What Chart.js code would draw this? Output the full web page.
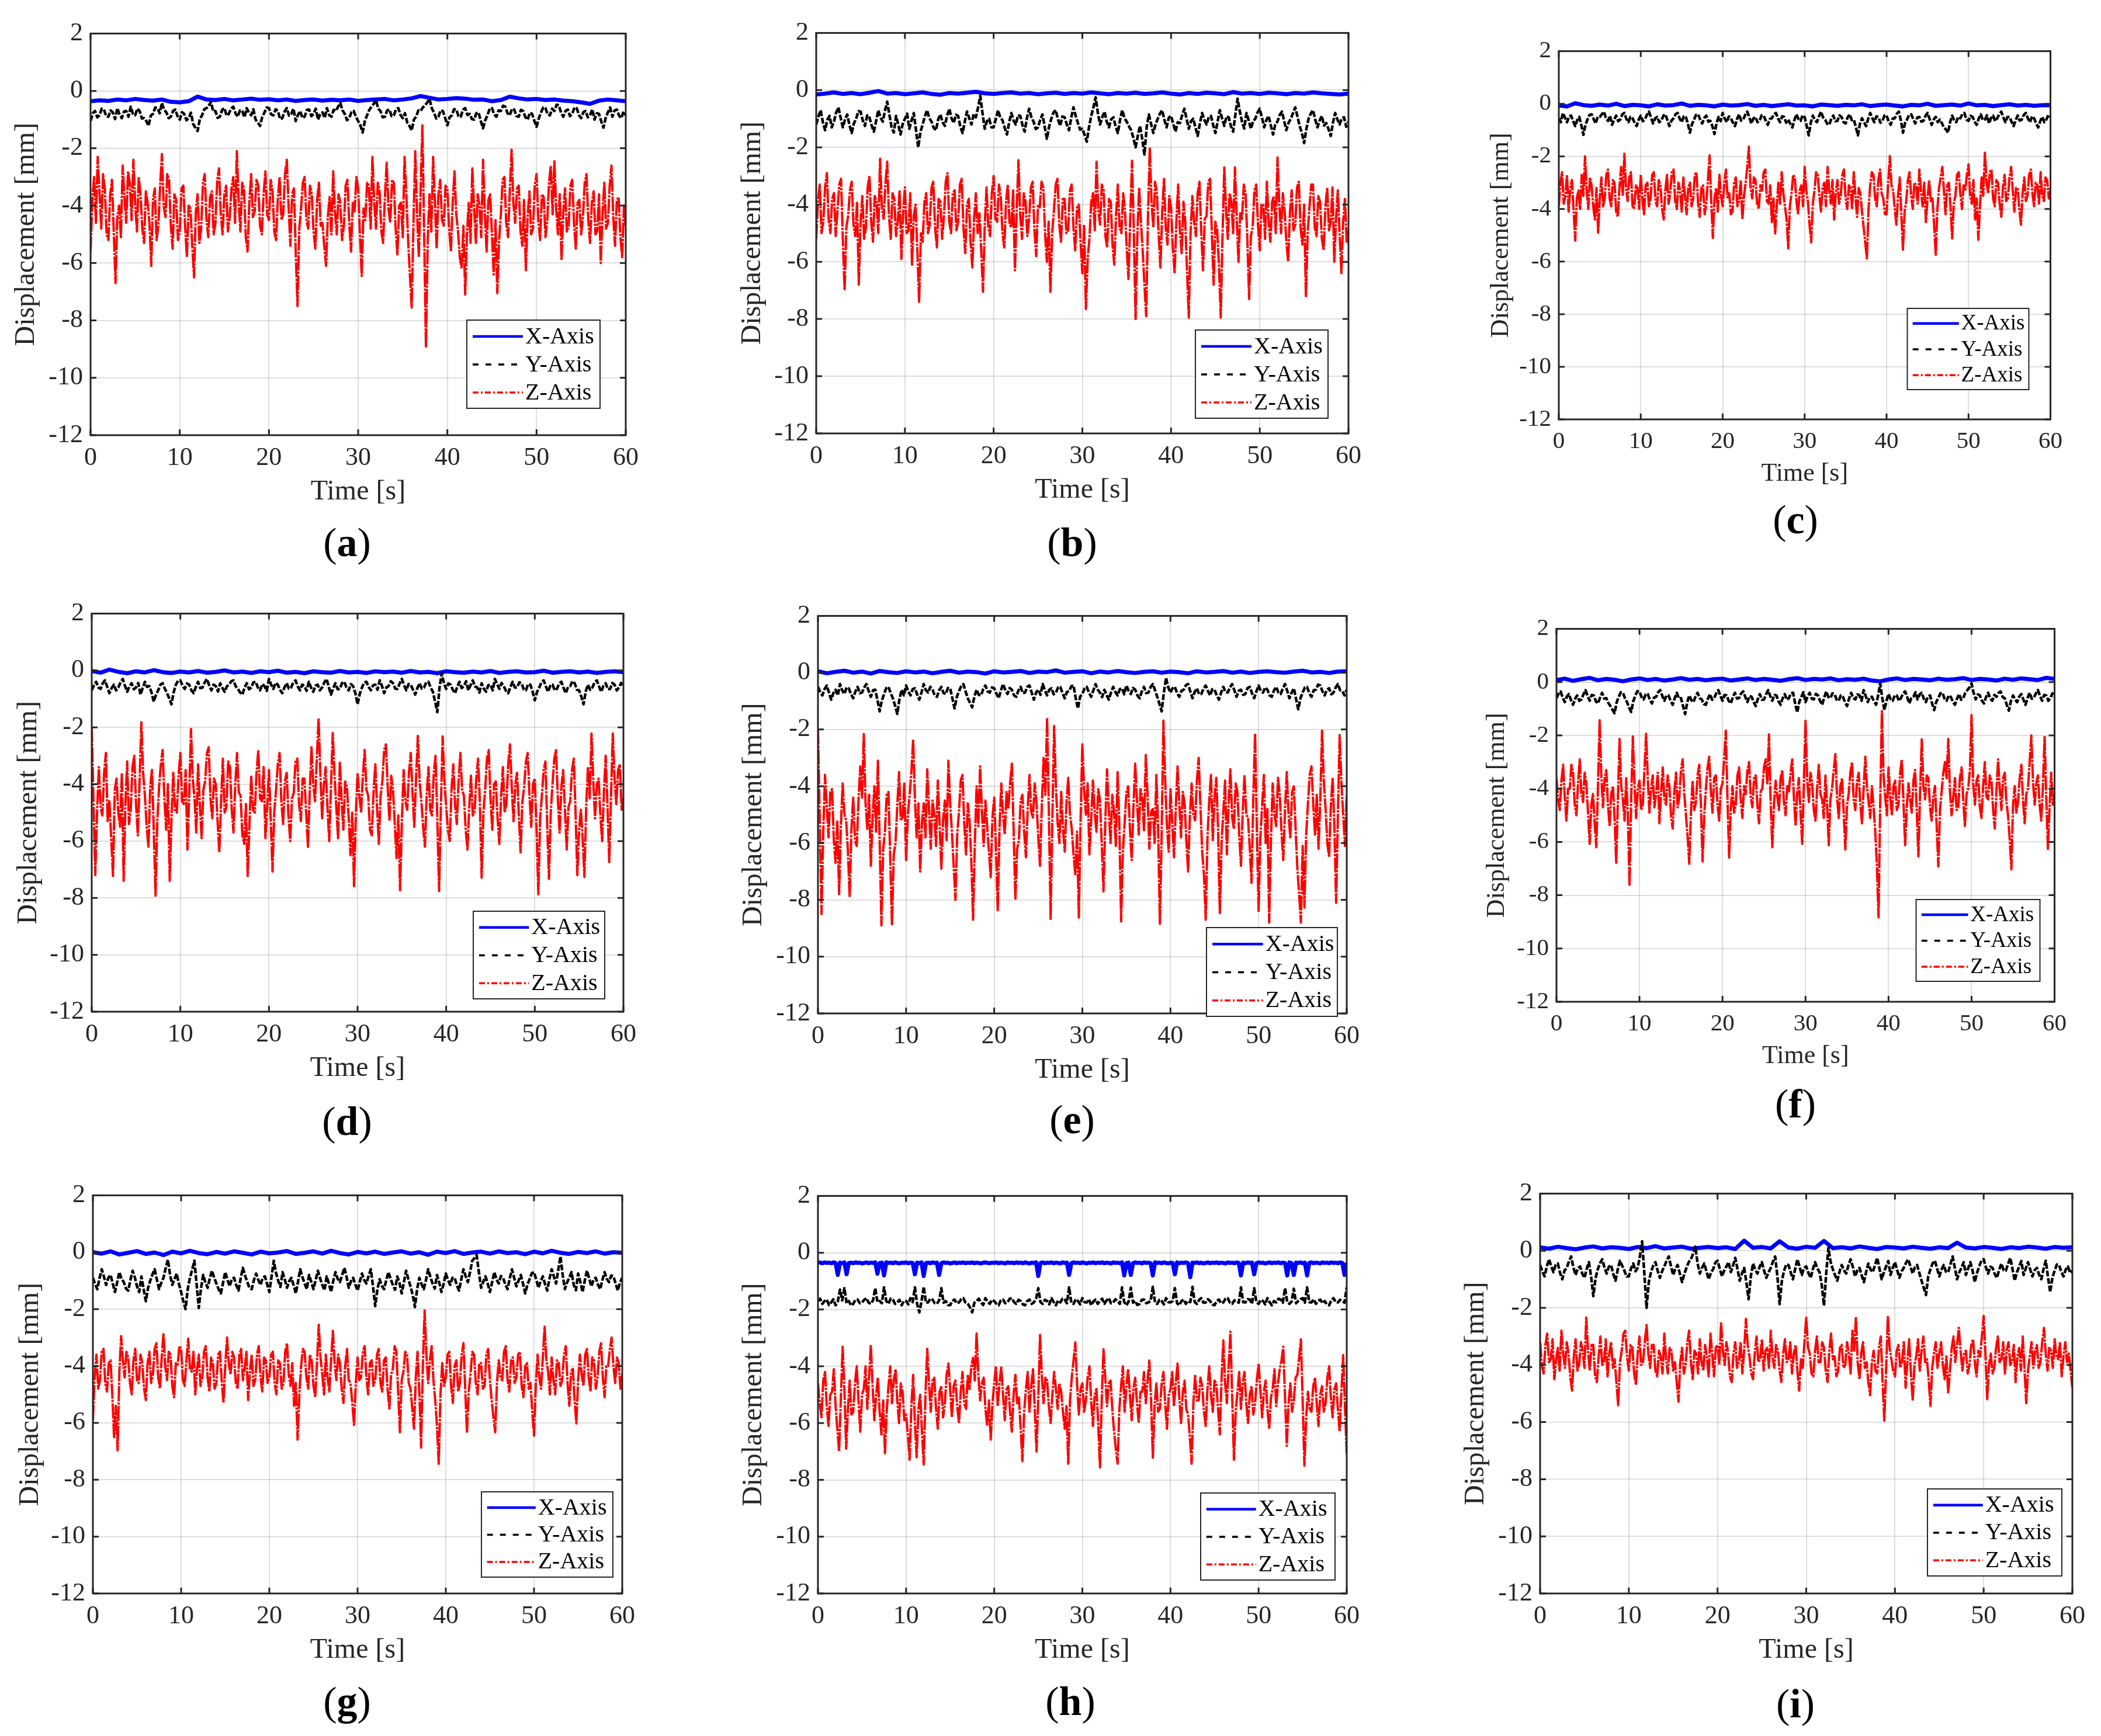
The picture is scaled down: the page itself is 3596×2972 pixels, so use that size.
<!DOCTYPE html>
<html>
<head>
<meta charset="utf-8">
<title>Displacement vs time, nine runs</title>
<script src="https://cdn.jsdelivr.net/npm/chart.js@4.4.1/dist/chart.umd.min.js"></script>
<style>
  body { margin: 0; background: #fff; }
  #fig { position: relative; width: 3596px; height: 2972px; overflow: hidden; background: #fff; }
  #fig canvas { position: absolute; }
  .cap { position: absolute; transform: translate(-50%, -50%); font-family: "Liberation Serif", "Times New Roman", serif; font-size: 70px; color: #000; white-space: nowrap; }
</style>
</head>
<body>
<div id="fig"></div>
<script>
// Axis ticks and series names
const timeTicks = [0, 10, 20, 30, 40, 50, 60];
const dispTicks = [-12, -10, -8, -6, -4, -2, 0, 2];
const seriesNames = ["X-Axis", "Y-Axis", "Z-Axis"];

// sample spacing (s) of the values
const xStep = 1;
const yStep = 0.25;
const zStep = 0.2;

// ---- (a) ----
const xA = [-0.36,-0.33,-0.35,-0.30,-0.33,-0.28,-0.32,-0.34,-0.30,-0.38,
  -0.40,-0.36,-0.20,-0.30,-0.32,-0.28,-0.33,-0.30,-0.27,-0.31,
  -0.29,-0.33,-0.30,-0.35,-0.32,-0.30,-0.34,-0.31,-0.33,-0.30,
  -0.35,-0.32,-0.30,-0.28,-0.33,-0.30,-0.26,-0.18,-0.24,-0.30,
  -0.28,-0.25,-0.27,-0.31,-0.30,-0.36,-0.32,-0.20,-0.26,-0.30,
  -0.28,-0.32,-0.30,-0.34,-0.36,-0.40,-0.45,-0.34,-0.30,-0.33,-0.36];
const yA = [-1.05,-0.78,-0.70,-0.92,-0.85,-0.62,-0.65,-0.88,-0.90,-0.68,-0.75,-0.98,-0.60,-0.82,-0.95,-0.72,-0.70,-0.90,-0.55,-0.80,
  -0.85,-0.62,-0.70,-0.96,-0.95,-1.05,-1.22,-0.86,-0.80,-0.58,-0.60,-0.78,-0.42,-0.66,-0.75,-0.95,-0.90,-0.70,-0.65,-0.88,
  -1.00,-0.74,-0.80,-1.02,-0.95,-0.76,-1.15,-1.28,-1.40,-0.98,-0.85,-0.64,-0.60,-0.52,-0.38,-0.72,-0.70,-0.94,-0.90,-0.66,
  -0.60,-0.86,-0.80,-0.62,-0.55,-0.78,-0.90,-0.68,-0.70,-0.92,-0.60,-0.76,-0.85,-0.64,-1.00,-1.10,-1.22,-0.90,-0.75,-0.58,
  -0.60,-0.82,-0.85,-0.64,-0.70,-0.98,-0.95,-0.72,-0.60,-0.86,-0.80,-0.62,-1.05,-0.84,-0.70,-0.94,-0.90,-0.66,-0.65,-0.88,
  -0.80,-0.62,-1.00,-0.82,-0.75,-0.94,-0.60,-0.84,-0.90,-0.66,-0.70,-0.55,-0.42,-0.68,-0.80,-1.02,-0.95,-0.74,-0.70,-0.90,
  -1.05,-1.20,-1.45,-1.05,-0.85,-0.66,-0.55,-0.45,-0.32,-0.62,-0.70,-0.92,-0.90,-0.68,-0.65,-0.88,-0.85,-0.64,-0.60,-0.84,
  -0.95,-0.78,-1.10,-1.22,-1.38,-1.00,-0.90,-0.68,-0.70,-0.58,-0.50,-0.40,-0.28,-0.60,-0.75,-0.96,-0.90,-0.68,-0.70,-0.94,
  -1.20,-0.92,-0.85,-0.64,-0.65,-0.88,-0.90,-0.66,-0.60,-0.84,-0.80,-0.98,-1.00,-0.78,-0.75,-1.05,-1.30,-1.02,-0.85,-0.62,
  -0.60,-0.82,-0.90,-0.68,-0.70,-0.52,-0.55,-0.78,-0.85,-0.62,-0.65,-0.88,-0.90,-0.66,-0.70,-0.92,-1.00,-0.76,-0.80,-1.04,
  -1.25,-0.96,-0.75,-0.58,-0.60,-0.82,-0.85,-0.62,-0.70,-0.48,-0.50,-0.76,-0.90,-0.70,-0.65,-0.88,-0.80,-0.58,-0.60,-0.84,
  -0.95,-0.74,-0.70,-0.92,-0.85,-0.64,-1.00,-0.78,-0.80,-1.06,-1.28,-0.94,-0.75,-0.58,-0.90,-0.68,-0.65,-0.86,-0.95,-0.72,-0.85];
const zA = [-5.6,-3.8,-3.0,-4.6,-2.3,-3.5,-4.8,-2.9,-3.4,-5.0,-5.2,-3.6,-3.1,-4.9,-6.7,-4.4,-4.0,-5.1,-2.6,-3.7,
  -4.6,-2.8,-3.2,-4.5,-2.4,-3.9,-4.9,-3.0,-3.6,-4.8,-5.3,-3.5,-3.9,-4.6,-6.1,-3.8,-3.4,-5.2,-4.7,-3.3,
  -2.2,-4.0,-4.4,-2.9,-3.1,-4.7,-5.5,-3.6,-3.8,-5.2,-4.9,-3.4,-3.3,-4.7,-5.8,-4.0,-4.1,-5.4,-6.5,-4.2,
  -3.6,-5.3,-4.8,-3.2,-2.9,-4.5,-5.1,-3.7,-3.5,-5.0,-4.6,-3.1,-2.7,-4.3,-5.0,-3.6,-3.3,-4.9,-4.4,-3.4,
  -3.0,-4.6,-2.1,-3.8,-4.9,-3.2,-3.4,-5.1,-5.6,-3.9,-2.9,-4.4,-4.2,-3.1,-3.3,-4.7,-5.0,-3.6,-2.8,-4.3,
  -4.5,-3.1,-3.5,-4.9,-5.2,-3.7,-3.0,-4.5,-4.3,-2.9,-2.4,-4.0,-5.4,-3.6,-3.4,-5.6,-7.5,-4.8,-4.1,-3.2,
  -3.0,-4.5,-4.8,-3.3,-3.6,-4.9,-5.5,-3.8,-3.2,-4.7,-4.6,-5.4,-6.1,-4.4,-3.7,-5.0,-2.8,-4.2,-5.0,-3.6,
  -3.9,-5.2,-4.7,-3.3,-3.1,-4.6,-5.6,-3.9,-4.2,-3.0,-3.4,-5.0,-6.45,-4.1,-4.5,-3.2,-3.3,-4.8,-2.3,-3.9,
  -4.8,-3.2,-3.5,-4.9,-5.3,-3.7,-2.5,-4.1,-4.6,-3.1,-3.2,-4.8,-5.7,-4.0,-3.9,-5.1,-2.3,-3.6,-5.2,-6.4,
  -7.55,-4.6,-2.1,-4.2,-5.8,-3.5,-1.2,-5.0,-8.95,-5.2,-3.6,-4.9,-2.3,-3.8,-5.5,-3.6,-3.1,-4.5,-4.7,-3.3,
  -3.4,-4.8,-5.6,-3.9,-2.8,-4.3,-4.9,-5.8,-6.2,-4.7,-7.1,-5.0,-3.9,-5.3,-2.7,-4.1,-5.3,-3.6,-4.0,-5.1,
  -2.4,-4.2,-5.6,-3.8,-3.6,-5.0,-6.4,-4.5,-7.05,-5.2,-4.3,-3.1,-3.0,-4.6,-5.1,-3.5,-2.05,-3.9,-4.6,-3.4,
  -3.3,-4.9,-5.4,-3.8,-6.25,-4.4,-3.5,-5.0,-4.8,-3.3,-2.9,-4.5,-5.2,-3.6,-3.7,-5.1,-4.5,-3.2,-2.6,-4.3,
  -2.45,-4.1,-5.0,-3.6,-5.9,-4.2,-3.4,-4.9,-4.7,-3.3,-3.1,-4.6,-5.5,-3.9,-3.8,-5.0,-4.4,-3.2,-2.9,-4.5,
  -5.3,-3.9,-3.5,-5.0,-4.9,-3.6,-6.0,-4.3,-3.2,-4.8,-4.6,-3.3,-2.6,-4.4,-5.4,-3.8,-3.7,-5.1,-5.8,-4.0,-4.7];

// ---- (b) ----
const xB = [-0.15,-0.12,-0.08,-0.13,-0.10,-0.14,-0.09,-0.03,-0.12,-0.10,
  -0.14,-0.11,-0.08,-0.13,-0.16,-0.10,-0.12,-0.09,-0.06,-0.11,
  -0.13,-0.10,-0.08,-0.12,-0.10,-0.14,-0.11,-0.09,-0.13,-0.10,
  -0.12,-0.08,-0.11,-0.14,-0.10,-0.12,-0.09,-0.13,-0.11,-0.08,
  -0.12,-0.15,-0.10,-0.13,-0.09,-0.11,-0.14,-0.07,-0.12,-0.10,
  -0.13,-0.09,-0.11,-0.14,-0.10,-0.12,-0.08,-0.11,-0.13,-0.15,-0.12];
const yB = [-1.20,-0.92,-0.70,-1.12,-1.40,-1.04,-0.90,-1.30,-1.10,-0.78,-0.60,-0.96,-1.30,-1.02,-0.85,-1.22,-1.50,-1.16,-1.00,-0.74,
  -0.75,-1.06,-1.25,-0.88,-0.95,-1.24,-1.45,-1.08,-0.70,-0.96,-1.10,-0.72,-0.40,-0.86,-1.30,-1.48,-0.90,-1.20,-1.55,-1.18,
  -1.00,-0.82,-1.35,-1.06,-0.80,-1.40,-2.00,-1.46,-1.20,-0.92,-0.70,-0.98,-1.10,-1.32,-1.40,-1.02,-0.85,-1.12,-1.25,-0.90,
  -0.65,-0.98,-1.15,-0.86,-0.90,-1.28,-1.50,-1.10,-0.75,-0.98,-1.20,-0.84,-0.95,-0.60,-0.20,-0.82,-1.35,-1.08,-1.00,-1.30,
  -1.30,-1.00,-0.70,-0.96,-1.05,-1.32,-1.55,-1.12,-0.80,-1.06,-1.20,-0.88,-0.90,-1.22,-1.45,-0.98,-0.65,-0.94,-1.10,-1.36,
  -1.30,-1.04,-0.85,-1.26,-1.70,-1.28,-1.00,-0.78,-0.70,-1.02,-1.25,-0.92,-0.95,-1.20,-1.40,-0.96,-0.60,-0.90,-1.15,-1.38,
  -1.35,-1.56,-1.80,-1.30,-0.90,-0.60,-0.25,-0.80,-1.20,-0.94,-0.75,-1.10,-1.30,-1.02,-0.95,-1.26,-1.50,-1.04,-0.70,-0.98,
  -1.10,-1.26,-1.40,-1.66,-2.00,-1.60,-1.25,-1.70,-2.25,-1.30,-0.85,-1.18,-1.50,-1.20,-1.00,-0.82,-0.70,-1.04,-1.30,-0.96,
  -0.90,-1.18,-1.45,-1.12,-1.15,-0.88,-0.65,-1.00,-1.35,-1.08,-1.00,-1.30,-1.60,-1.16,-0.80,-1.04,-1.20,-0.94,-0.90,-1.22,
  -1.50,-1.10,-0.70,-0.98,-1.25,-0.92,-0.95,-1.26,-1.45,-0.86,-0.30,-0.74,-1.10,-1.34,-0.80,-1.06,-1.35,-1.08,-1.00,-0.78,
  -0.65,-0.96,-1.30,-1.04,-0.90,-1.24,-1.55,-1.20,-1.10,-0.86,-0.75,-1.08,-1.40,-1.14,-1.00,-0.80,-0.60,-0.92,-1.25,-1.50,
  -1.85,-1.36,-1.00,-0.82,-0.70,-1.02,-1.30,-1.06,-0.90,-1.24,-1.15,-1.36,-1.60,-1.14,-0.80,-1.02,-1.20,-0.98,-0.95,-1.28,-1.10];
const zB = [-5.2,-3.9,-3.3,-5.0,-4.6,-3.4,-2.9,-4.5,-5.0,-3.8,-3.6,-5.1,-4.2,-3.3,-3.1,-5.2,-7.0,-4.8,-4.4,-3.5,
  -3.2,-4.7,-5.1,-3.9,-6.8,-4.6,-3.7,-5.2,-4.8,-3.4,-3.0,-4.6,-5.3,-3.7,-3.9,-5.0,-2.4,-4.1,-4.5,-3.3,
  -2.5,-4.4,-5.2,-3.6,-3.8,-5.1,-4.6,-3.5,-5.9,-4.3,-3.4,-5.0,-4.9,-3.6,-6.1,-4.4,-4.0,-5.6,-7.4,-5.0,
  -5.3,-3.9,-3.6,-5.0,-4.7,-3.4,-3.2,-4.8,-5.5,-3.8,-3.9,-5.2,-4.4,-3.2,-2.9,-4.6,-5.0,-3.6,-3.5,-4.9,
  -4.6,-3.3,-3.1,-4.8,-5.7,-4.0,-3.8,-5.3,-6.2,-4.5,-3.6,-5.0,-4.3,-5.6,-7.05,-4.7,-3.4,-4.8,-5.1,-3.6,
  -3.0,-4.5,-4.6,-3.3,-3.7,-5.0,-5.5,-3.9,-3.3,-4.7,-4.8,-3.5,-6.3,-4.2,-2.45,-4.4,-5.2,-3.6,-3.9,-5.1,
  -4.5,-3.4,-3.2,-4.9,-5.8,-4.0,-4.1,-3.2,-3.4,-5.0,-6.0,-4.6,-7.05,-5.0,-4.2,-3.3,-3.1,-4.7,-5.3,-3.8,
  -3.8,-5.0,-4.9,-3.5,-3.3,-4.8,-5.6,-4.1,-4.0,-5.3,-6.4,-4.7,-7.65,-5.9,-5.2,-3.9,-3.6,-4.9,-2.5,-4.2,
  -4.7,-3.3,-3.5,-5.1,-5.5,-3.8,-3.9,-5.4,-6.1,-4.4,-3.3,-4.8,-5.0,-3.6,-4.2,-5.5,-6.6,-4.5,-2.47,-4.9,
  -8.0,-5.1,-3.4,-4.6,-5.6,-6.8,-7.9,-4.4,-2.0,-3.9,-4.8,-3.2,-3.6,-5.0,-6.2,-4.3,-3.1,-4.8,-5.4,-3.7,
  -4.1,-5.5,-6.4,-4.6,-3.3,-4.9,-5.7,-3.9,-4.6,-6.3,-7.95,-5.0,-3.7,-4.6,-5.1,-3.6,-3.2,-4.9,-6.3,-4.5,
  -4.4,-3.2,-3.1,-5.0,-6.8,-4.6,-4.9,-6.1,-7.95,-5.1,-2.7,-4.2,-5.2,-3.6,-3.9,-5.0,-2.7,-4.4,-6.0,-4.3,
  -4.5,-3.3,-3.6,-5.2,-7.3,-5.1,-4.8,-3.5,-3.3,-4.7,-5.6,-4.0,-4.0,-5.2,-3.2,-4.6,-5.3,-3.9,-3.7,-5.0,
  -2.35,-4.0,-5.0,-3.6,-4.2,-5.3,-6.0,-4.3,-3.5,-4.9,-4.7,-3.4,-3.2,-4.8,-5.4,-4.0,-7.2,-5.0,-4.1,-3.3,
  -3.3,-4.8,-5.1,-3.7,-3.9,-5.2,-5.6,-4.1,-3.4,-4.9,-4.6,-3.4,-6.0,-4.5,-3.5,-5.0,-6.4,-4.6,-3.8,-5.3,-4.9];

// ---- (c) ----
const xC = [-0.06,-0.10,0.02,-0.05,-0.08,-0.03,-0.07,0.00,-0.09,-0.04,
  -0.06,-0.10,-0.02,-0.07,-0.05,0.01,-0.08,-0.04,-0.06,-0.10,
  -0.03,-0.07,-0.05,-0.01,-0.08,-0.04,-0.09,-0.05,-0.02,-0.07,
  -0.06,-0.10,-0.03,-0.05,-0.08,-0.04,-0.06,-0.02,-0.09,-0.05,
  -0.03,-0.07,-0.10,-0.04,-0.06,0.00,-0.08,-0.05,-0.03,-0.07,
  0.01,-0.06,-0.04,-0.09,-0.05,-0.02,-0.07,-0.04,-0.08,-0.05,-0.06];
const yC = [-0.55,-0.70,-0.35,-0.52,-0.70,-0.48,-0.45,-0.66,-0.85,-0.62,-0.50,-0.82,-1.18,-0.80,-0.60,-0.42,-0.40,-0.58,-0.75,-0.50,
  -0.50,-0.40,-0.30,-0.54,-0.65,-0.46,-0.80,-0.60,-0.45,-0.66,-0.60,-0.40,-0.35,-0.58,-0.70,-0.50,-0.55,-0.72,-0.85,-0.60,
  -0.45,-0.66,-0.60,-0.42,-0.30,-0.52,-0.75,-0.56,-0.50,-0.70,-0.65,-0.46,-0.40,-0.62,-0.85,-0.64,-0.55,-0.40,-0.35,-0.56,
  -0.70,-0.48,-0.50,-0.76,-1.10,-0.78,-0.60,-0.42,-0.40,-0.60,-0.75,-0.54,-0.45,-0.68,-0.65,-0.86,-1.15,-0.74,-0.50,-0.66,
  -0.35,-0.56,-0.70,-0.48,-0.55,-0.72,-0.85,-0.58,-0.40,-0.64,-0.60,-0.42,-0.30,-0.52,-0.75,-0.56,-0.50,-0.70,-0.65,-0.44,
  -0.45,-0.64,-0.80,-0.58,-0.55,-0.40,-0.35,-0.56,-0.70,-0.48,-0.50,-0.72,-0.60,-0.76,-0.90,-0.62,-0.40,-0.58,-0.65,-0.44,
  -0.50,-0.84,-1.20,-0.72,-0.45,-0.62,-0.70,-0.48,-0.30,-0.52,-0.60,-0.76,-0.80,-0.58,-0.45,-0.66,-0.65,-0.44,-0.50,-0.70,
  -0.75,-0.52,-0.40,-0.62,-0.60,-0.88,-1.20,-0.76,-0.55,-0.70,-0.85,-0.58,-0.35,-0.54,-0.70,-0.48,-0.50,-0.72,-0.65,-0.44,
  -0.45,-0.66,-0.80,-0.56,-0.55,-0.38,-0.30,-0.64,-1.10,-0.74,-0.60,-0.42,-0.40,-0.58,-0.75,-0.52,-0.50,-0.68,-0.65,-0.46,
  -0.35,-0.58,-0.80,-0.60,-0.50,-0.70,-0.60,-0.74,-0.90,-0.98,-1.10,-0.70,-0.45,-0.62,-0.70,-0.50,-0.55,-0.40,-0.35,-0.60,
  -0.65,-0.46,-0.50,-0.68,-0.80,-0.56,-0.40,-0.62,-0.60,-0.44,-0.75,-0.54,-0.45,-0.66,-0.55,-0.40,-0.30,-0.52,-0.70,-0.50,
  -0.50,-0.68,-0.85,-0.62,-0.45,-0.64,-0.60,-0.42,-0.35,-0.56,-0.70,-0.48,-0.55,-0.74,-0.90,-0.66,-0.50,-0.70,-0.60,-0.42,-0.50];
const zC = [-3.9,-3.0,-2.6,-3.8,-3.5,-2.7,-4.1,-3.2,-2.9,-4.0,-5.2,-3.6,-3.3,-4.0,-2.7,-3.5,-2.0,-3.3,-4.0,-2.8,
  -3.1,-3.9,-4.4,-3.2,-4.9,-3.6,-2.8,-3.9,-3.6,-2.7,-2.5,-3.6,-3.9,-2.9,-3.0,-4.1,-4.3,-3.2,-2.4,-3.5,
  -1.9,-3.2,-3.7,-2.8,-2.6,-3.9,-4.0,-3.1,-3.2,-4.0,-2.7,-3.6,-4.2,-3.1,-3.0,-3.9,-3.6,-2.7,-2.6,-3.7,
  -3.9,-2.9,-3.1,-4.0,-4.4,-3.3,-2.7,-3.8,-3.4,-2.6,-2.5,-3.7,-4.0,-3.0,-3.3,-4.1,-2.8,-3.5,-4.2,-3.2,
  -3.0,-3.9,-3.6,-2.7,-2.6,-3.8,-4.3,-3.2,-3.1,-4.2,-3.8,-2.9,-1.96,-3.7,-5.1,-3.6,-3.2,-4.1,-2.7,-3.5,
  -3.9,-3.0,-2.5,-3.6,-3.4,-4.2,-4.1,-3.0,-2.8,-3.9,-3.7,-2.9,-4.4,-3.5,-3.0,-2.4,-1.63,-3.2,-3.6,-2.8,
  -2.9,-3.8,-4.0,-3.1,-3.3,-2.6,-2.5,-3.7,-3.8,-3.1,-4.5,-3.6,-4.93,-3.9,-3.0,-3.8,-2.6,-3.4,-3.9,-4.4,
  -5.5,-3.9,-3.4,-2.7,-2.8,-3.7,-4.2,-3.3,-3.1,-3.9,-2.4,-3.3,-3.7,-4.6,-5.27,-3.8,-3.3,-2.6,-2.7,-3.5,
  -4.1,-3.2,-3.0,-3.9,-2.4,-3.3,-3.8,-2.9,-4.4,-3.4,-2.9,-3.8,-3.5,-2.7,-2.5,-3.6,-4.0,-3.1,-3.2,-4.0,
  -2.6,-3.5,-4.3,-3.2,-3.4,-4.1,-4.7,-5.3,-5.88,-4.0,-3.1,-2.6,-2.7,-3.6,-3.9,-2.9,-2.5,-3.4,-3.6,-4.2,
  -4.2,-3.0,-1.99,-3.1,-3.3,-4.0,-4.6,-3.5,-2.8,-4.2,-5.55,-4.1,-3.7,-2.9,-2.6,-3.5,-4.0,-3.0,-3.1,-3.8,
  -2.5,-3.3,-3.9,-3.0,-4.5,-3.6,-2.9,-3.7,-3.6,-4.6,-5.74,-4.0,-3.2,-2.8,-2.4,-3.3,-4.2,-3.1,-3.0,-3.9,
  -5.12,-3.8,-3.5,-2.7,-2.6,-3.4,-4.0,-3.1,-3.3,-2.7,-2.3,-3.5,-3.8,-2.9,-4.4,-3.6,-5.17,-3.9,-2.8,-3.5,
  -1.86,-3.0,-3.4,-2.6,-2.5,-3.6,-3.9,-2.9,-3.0,-3.8,-4.3,-3.2,-2.7,-3.7,-3.6,-2.8,-2.4,-3.3,-4.1,-3.2,
  -3.2,-4.0,-4.6,-3.4,-2.8,-3.7,-3.5,-2.7,-2.5,-3.4,-3.9,-3.0,-3.1,-3.8,-2.6,-3.5,-3.7,-2.8,-2.9,-3.6,-3.2];

// ---- (d) ----
const xD = [-0.02,-0.08,0.03,-0.05,-0.10,-0.03,-0.07,0.01,-0.06,-0.09,
  -0.04,-0.07,-0.02,-0.08,-0.05,0.00,-0.07,-0.04,-0.09,-0.03,
  -0.06,-0.01,-0.08,-0.05,-0.10,-0.03,-0.06,-0.08,-0.02,-0.07,
  -0.05,-0.09,-0.03,-0.06,-0.04,-0.08,-0.02,-0.07,-0.05,-0.10,
  -0.03,-0.06,-0.08,-0.04,-0.07,-0.02,-0.09,-0.05,-0.03,-0.07,
  -0.06,-0.01,-0.08,-0.05,-0.03,-0.07,-0.04,-0.09,-0.05,-0.03,-0.06];
const yD = [-0.70,-0.52,-0.40,-0.60,-0.65,-0.44,-0.35,-0.58,-0.80,-0.62,-0.50,-0.70,-0.60,-0.42,-0.30,-0.54,-0.75,-0.56,-0.45,-0.66,
  -0.60,-0.44,-0.85,-0.62,-0.40,-0.58,-0.55,-0.78,-1.10,-0.86,-0.70,-0.50,-0.45,-0.64,-0.80,-0.98,-1.19,-0.76,-0.50,-0.36,
  -0.35,-0.54,-0.65,-0.46,-0.50,-0.70,-0.80,-0.58,-0.40,-0.62,-0.60,-0.42,-0.30,-0.52,-0.70,-0.50,-0.55,-0.74,-0.45,-0.62,
  -0.75,-0.56,-0.50,-0.38,-0.35,-0.56,-0.65,-0.78,-0.85,-0.60,-0.45,-0.66,-0.60,-0.42,-0.40,-0.60,-0.70,-0.48,-0.55,-0.72,
  -0.30,-0.50,-0.65,-0.44,-0.50,-0.68,-0.80,-0.60,-0.45,-0.64,-0.60,-0.42,-0.35,-0.56,-0.70,-0.50,-0.55,-0.72,-0.40,-0.60,
  -0.75,-0.54,-0.50,-0.70,-0.60,-0.42,-0.30,-0.58,-0.85,-0.62,-0.45,-0.66,-0.65,-0.44,-0.40,-0.60,-0.70,-0.48,-0.55,-0.80,
  -1.19,-0.82,-0.60,-0.42,-0.40,-0.58,-0.70,-0.52,-0.50,-0.68,-0.35,-0.54,-0.80,-0.60,-0.55,-0.38,-0.45,-0.64,-0.65,-0.46,
  -0.30,-0.52,-0.70,-0.48,-0.50,-0.68,-0.85,-0.62,-0.45,-0.64,-0.60,-0.42,-0.40,-0.60,-0.75,-1.10,-1.47,-0.60,-0.10,-0.46,
  -0.65,-0.46,-0.50,-0.68,-0.80,-0.58,-0.40,-0.62,-0.55,-0.38,-0.70,-0.52,-0.35,-0.56,-0.60,-0.78,-0.45,-0.64,-0.75,-0.52,
  -0.50,-0.70,-0.30,-0.48,-0.65,-0.44,-0.55,-0.72,-0.80,-0.58,-0.40,-0.60,-0.60,-0.42,-0.45,-0.66,-0.70,-0.48,-0.50,-0.74,
  -1.05,-0.76,-0.60,-0.42,-0.35,-0.56,-0.75,-0.54,-0.50,-0.70,-0.65,-0.46,-0.40,-0.62,-0.80,-0.58,-0.55,-0.38,-0.45,-0.68,
  -0.70,-0.92,-1.19,-0.74,-0.50,-0.68,-0.60,-0.42,-0.35,-0.56,-0.75,-0.54,-0.45,-0.66,-0.65,-0.44,-0.50,-0.70,-0.60,-0.44,-0.55];
const zD = [-2.0,-4.6,-7.2,-5.0,-3.4,-4.8,-5.1,-3.6,-2.9,-5.3,-4.6,-5.9,-7.23,-4.2,-3.8,-5.0,-5.5,-3.6,-7.4,-4.7,
  -3.2,-5.4,-4.9,-3.4,-3.0,-4.7,-5.8,-3.9,-1.82,-3.6,-4.4,-5.5,-6.2,-4.1,-3.5,-5.6,-7.92,-5.3,-4.1,-3.3,
  -2.8,-4.5,-5.6,-4.0,-7.4,-5.2,-3.6,-4.9,-5.0,-3.7,-2.9,-4.6,-4.7,-3.5,-6.3,-4.4,-2.06,-3.8,-4.5,-5.7,
  -3.3,-4.7,-5.9,-4.2,-3.9,-2.9,-2.7,-4.5,-5.2,-3.8,-4.0,-5.3,-6.4,-4.6,-3.1,-5.0,-4.8,-3.2,-3.4,-4.9,
  -5.7,-4.0,-2.9,-4.3,-4.4,-5.8,-6.1,-4.7,-7.23,-5.4,-3.7,-4.9,-5.0,-3.6,-2.8,-4.5,-4.6,-3.4,-5.9,-4.8,
  -3.5,-5.2,-7.07,-5.0,-4.2,-3.3,-2.9,-4.6,-5.4,-3.9,-3.6,-5.1,-6.0,-4.5,-4.3,-3.2,-3.1,-4.7,-5.3,-3.8,
  -3.8,-5.0,-6.2,-4.3,-2.7,-4.0,-4.6,-3.1,-1.69,-3.6,-5.2,-4.0,-3.4,-4.8,-6.0,-4.1,-2.2,-3.7,-4.8,-5.9,
  -3.2,-4.6,-5.6,-3.9,-4.1,-5.2,-6.5,-5.0,-7.59,-5.1,-3.6,-4.4,-5.0,-3.7,-2.8,-4.2,-4.4,-5.6,-5.8,-4.3,
  -3.3,-4.8,-6.1,-4.4,-3.9,-2.8,-2.6,-4.1,-5.3,-3.7,-4.2,-5.4,-6.6,-5.1,-7.73,-5.3,-3.5,-4.6,-4.9,-3.6,
  -2.9,-4.3,-5.5,-3.8,-2.3,-3.9,-4.6,-5.5,-6.2,-4.4,-3.4,-4.9,-5.1,-3.6,-3.0,-5.2,-7.76,-4.8,-2.32,-3.9,
  -4.8,-5.6,-6.0,-4.2,-3.3,-4.7,-5.4,-3.9,-2.9,-4.2,-4.4,-5.6,-6.3,-4.8,-3.7,-5.1,-5.0,-3.8,-3.1,-4.6,
  -7.29,-5.0,-4.2,-3.1,-2.8,-4.5,-5.6,-4.0,-3.9,-5.2,-6.1,-4.4,-3.4,-5.0,-4.7,-3.3,-2.6,-4.1,-5.3,-4.0,
  -3.6,-5.1,-6.4,-4.6,-4.1,-3.2,-2.9,-4.4,-5.5,-4.0,-3.8,-5.6,-7.87,-5.2,-4.4,-3.5,-3.2,-5.4,-7.33,-5.0,
  -4.0,-3.1,-2.8,-4.5,-5.7,-4.1,-3.5,-4.9,-6.3,-4.8,-4.6,-3.5,-3.1,-5.0,-7.2,-5.6,-4.9,-5.9,-7.26,-4.8,
  -3.4,-4.5,-2.22,-3.9,-5.2,-4.0,-3.8,-5.1,-6.0,-4.3,-3.0,-4.7,-6.74,-4.5,-2.22,-3.8,-4.7,-3.5,-3.3,-4.9,-4.5];

// ---- (e) ----
const xE = [0.05,-0.02,0.03,0.07,0.00,0.04,-0.03,0.06,0.02,-0.01,
  0.05,0.01,0.04,-0.02,0.03,0.07,0.00,0.04,0.02,-0.03,
  0.05,0.01,0.03,0.06,-0.01,0.04,0.02,0.08,0.00,0.03,
  0.05,-0.02,0.04,0.01,0.06,0.02,-0.01,0.03,0.05,0.00,
  0.04,0.02,-0.02,0.05,0.01,0.03,0.06,0.00,0.04,-0.01,
  0.03,0.05,0.02,0.00,0.04,0.07,0.01,0.03,-0.01,0.04,0.05];
const yE = [-0.50,-0.68,-0.80,-0.58,-0.45,-0.70,-0.95,-0.72,-0.60,-0.80,-0.40,-0.62,-0.75,-0.52,-0.55,-0.76,-0.90,-0.66,-0.50,-0.72,
  -0.70,-0.52,-0.40,-0.64,-0.85,-0.62,-0.60,-0.96,-1.36,-0.98,-0.75,-0.54,-0.50,-0.72,-0.90,-1.16,-1.45,-0.92,-0.60,-0.80,
  -0.45,-0.66,-0.80,-0.58,-0.55,-0.76,-0.95,-0.70,-0.40,-0.62,-0.70,-0.50,-0.60,-0.80,-0.85,-0.62,-0.50,-0.72,-0.75,-0.54,
  -0.55,-0.90,-1.26,-0.86,-0.65,-0.48,-0.40,-0.66,-0.90,-1.06,-1.22,-0.84,-0.60,-0.78,-0.80,-0.58,-0.45,-0.66,-0.70,-0.52,
  -0.55,-0.74,-0.90,-0.64,-0.40,-0.60,-0.75,-0.54,-0.60,-0.80,-0.85,-0.62,-0.50,-0.72,-0.70,-0.50,-0.45,-0.70,-0.95,-0.70,
  -0.60,-0.78,-0.40,-0.62,-0.80,-0.60,-0.55,-0.76,-0.70,-0.52,-0.50,-0.72,-0.90,-0.68,-0.65,-0.48,-0.45,-0.90,-1.26,-0.84,
  -0.75,-0.56,-0.50,-0.70,-0.85,-0.62,-0.40,-0.60,-0.70,-0.86,-0.60,-0.78,-0.95,-0.70,-0.50,-0.68,-0.80,-0.58,-0.55,-0.76,
  -0.45,-0.64,-0.75,-0.54,-0.60,-0.80,-0.90,-0.66,-0.50,-0.72,-0.70,-0.50,-0.40,-0.62,-0.85,-1.10,-1.36,-0.70,-0.18,-0.52,
  -0.70,-0.54,-0.50,-0.72,-0.85,-0.64,-0.60,-0.44,-0.40,-0.66,-0.90,-0.68,-0.55,-0.76,-0.75,-0.56,-0.45,-0.64,-0.80,-0.58,
  -0.60,-0.80,-0.95,-0.70,-0.50,-0.68,-0.70,-0.52,-0.40,-0.62,-0.85,-0.64,-0.60,-0.78,-0.75,-0.54,-0.50,-0.72,-0.90,-0.66,
  -0.45,-0.64,-0.70,-0.52,-0.60,-0.80,-0.85,-0.62,-0.50,-0.70,-0.75,-0.56,-0.40,-0.64,-0.90,-0.70,-0.55,-0.92,-1.29,-0.90,
  -0.70,-0.52,-0.50,-0.72,-0.85,-0.62,-0.60,-0.42,-0.45,-0.66,-0.80,-0.60,-0.55,-0.76,-0.70,-0.52,-0.40,-0.62,-0.65,-0.80,-0.60];
const zE = [-2.0,-5.1,-8.5,-5.6,-3.6,-4.7,-5.8,-4.2,-4.1,-5.9,-6.7,-5.2,-7.8,-5.4,-3.9,-5.0,-5.2,-6.3,-7.9,-5.5,
  -4.4,-5.9,-6.1,-4.5,-3.3,-4.4,-2.16,-4.6,-5.5,-4.3,-6.8,-5.1,-4.0,-5.6,-3.1,-5.9,-8.9,-6.2,-5.6,-4.3,
  -4.2,-6.5,-8.9,-6.4,-6.0,-4.7,-3.5,-5.2,-5.1,-3.9,-6.6,-5.0,-4.3,-3.5,-2.35,-4.4,-5.8,-4.6,-7.0,-5.3,
  -4.6,-5.8,-3.4,-4.8,-6.2,-4.5,-5.0,-6.1,-3.8,-5.3,-6.9,-5.2,-4.5,-5.9,-3.1,-4.6,-5.6,-6.8,-8.0,-5.7,
  -4.9,-3.8,-3.6,-5.3,-6.4,-4.6,-5.2,-6.6,-8.7,-6.0,-4.0,-5.4,-3.3,-4.8,-6.1,-4.5,-5.4,-6.3,-7.2,-5.1,
  -4.4,-6.2,-8.4,-5.5,-3.9,-5.0,-5.7,-4.2,-4.8,-3.9,-3.2,-5.5,-8.0,-6.2,-5.9,-4.5,-4.3,-5.6,-6.5,-4.8,
  -3.6,-4.9,-5.1,-3.9,-4.6,-5.8,-6.8,-4.7,-3.0,-4.3,-1.58,-4.9,-8.67,-5.1,-1.88,-4.0,-5.3,-6.0,-4.2,-5.5,
  -6.3,-4.6,-3.7,-5.0,-5.5,-6.4,-7.1,-5.6,-8.62,-5.2,-2.52,-4.1,-5.0,-3.9,-6.4,-5.2,-3.8,-4.9,-5.6,-4.1,
  -4.5,-6.0,-7.7,-5.3,-3.4,-4.8,-6.0,-4.3,-4.9,-6.1,-3.5,-5.4,-8.76,-6.3,-5.3,-4.2,-4.0,-5.5,-6.6,-4.7,
  -3.2,-4.5,-5.7,-4.1,-4.4,-5.6,-2.9,-4.3,-6.2,-4.9,-4.8,-6.0,-3.6,-5.5,-8.84,-5.7,-1.69,-3.8,-5.4,-6.3,
  -4.1,-5.3,-6.5,-4.8,-3.3,-4.6,-5.8,-4.2,-4.6,-5.9,-7.0,-5.1,-3.9,-5.0,-5.2,-3.8,-3.0,-4.7,-6.3,-7.1,
  -8.7,-5.8,-4.5,-3.6,-5.9,-4.4,-3.7,-5.5,-8.46,-6.0,-4.9,-3.8,-6.4,-4.6,-3.4,-5.1,-5.5,-3.9,-4.2,-5.7,
  -6.8,-4.9,-3.6,-5.0,-5.1,-6.2,-7.4,-4.4,-2.14,-5.5,-8.39,-5.8,-4.7,-3.6,-6.0,-4.8,-8.8,-5.9,-3.9,-5.0,
  -5.4,-3.7,-4.3,-5.6,-6.6,-4.8,-3.5,-5.0,-5.8,-4.2,-4.0,-5.5,-6.9,-7.8,-8.8,-6.1,-8.27,-5.7,-4.6,-3.6,
  -3.3,-4.6,-5.7,-4.3,-6.2,-4.5,-2.04,-3.8,-4.8,-6.0,-6.5,-4.7,-3.7,-5.4,-8.1,-5.0,-2.2,-3.9,-5.0,-6.1,-4.3];

// ---- (f) ----
const xF = [0.08,0.13,0.05,0.11,0.16,0.07,0.12,0.09,0.03,0.10,
  0.14,0.08,0.12,0.06,0.10,0.15,0.09,0.12,0.07,0.11,
  0.13,0.06,0.10,0.14,0.08,0.12,0.09,0.05,0.11,0.15,
  0.08,0.12,0.10,0.14,0.07,0.11,0.09,0.13,0.06,0.03,
  0.10,0.14,0.08,0.12,0.10,0.07,0.13,0.09,0.11,0.15,
  0.08,0.12,0.10,0.06,0.13,0.09,0.14,0.11,0.08,0.16,0.12];
const yF = [-0.60,-0.44,-0.35,-0.58,-0.75,-0.54,-0.45,-0.68,-0.85,-0.62,-0.50,-0.70,-0.65,-0.46,-0.30,-0.52,-0.70,-0.48,-0.50,-0.72,
  -0.80,-0.58,-0.40,-0.62,-0.60,-0.78,-0.90,-1.04,-1.17,-0.76,-0.55,-0.38,-0.40,-0.60,-0.75,-0.96,-1.12,-0.72,-0.50,-0.34,
  -0.35,-0.56,-0.65,-0.46,-0.45,-0.66,-0.80,-0.58,-0.55,-0.38,-0.30,-0.52,-0.70,-0.50,-0.50,-0.70,-0.85,-0.60,-0.40,-0.62,
  -0.60,-0.90,-1.20,-0.76,-0.50,-0.68,-0.75,-0.54,-0.40,-0.60,-0.65,-0.82,-0.85,-0.62,-0.45,-0.66,-0.60,-0.42,-0.30,-0.52,
  -0.70,-0.48,-0.50,-0.70,-0.80,-0.56,-0.40,-0.62,-0.60,-0.42,-0.35,-0.56,-0.75,-0.52,-0.55,-0.74,-0.90,-0.64,-0.45,-0.66,
  -0.65,-0.46,-0.30,-0.52,-0.70,-0.48,-0.50,-0.72,-0.85,-0.60,-0.45,-0.66,-0.60,-0.42,-0.40,-0.80,-1.14,-0.74,-0.55,-0.38,
  -0.75,-0.54,-0.40,-0.62,-0.65,-0.44,-0.50,-0.70,-0.85,-0.58,-0.35,-0.56,-0.60,-0.42,-0.45,-0.66,-0.70,-0.50,-0.55,-0.74,
  -0.90,-0.62,-0.40,-0.60,-0.65,-0.46,-0.50,-0.70,-0.30,-0.52,-0.75,-0.56,-0.55,-0.72,-0.85,-0.50,-0.05,-0.60,-1.05,-0.70,
  -0.45,-0.64,-0.70,-0.50,-0.50,-0.70,-0.60,-0.42,-0.35,-0.56,-0.80,-0.60,-0.55,-0.38,-0.65,-0.46,-0.40,-0.62,-0.75,-0.54,
  -0.50,-0.80,-1.05,-0.74,-0.60,-0.42,-0.40,-0.62,-0.70,-0.50,-0.55,-0.74,-0.85,-0.62,-0.45,-0.66,-0.60,-0.40,-0.30,-0.20,
  -0.05,-0.40,-0.65,-0.46,-0.50,-0.70,-0.80,-0.56,-0.40,-0.62,-0.70,-0.48,-0.55,-0.40,-0.35,-0.56,-0.60,-0.86,-1.07,-0.70,
  -0.50,-0.66,-0.75,-0.54,-0.45,-0.66,-0.85,-0.60,-0.40,-0.62,-0.60,-0.42,-0.30,-0.52,-0.70,-0.48,-0.50,-0.70,-0.60,-0.42,-0.55];
const zF = [-3.6,-4.4,-4.8,-3.7,-3.1,-4.3,-5.2,-4.0,-4.0,-3.1,-3.4,-4.6,-5.0,-3.8,-2.9,-4.2,-4.5,-3.4,-3.8,-4.9,
  -6.07,-4.6,-4.2,-5.3,-6.2,-3.9,-1.43,-3.5,-4.7,-3.6,-3.3,-4.6,-5.4,-4.2,-3.9,-5.1,-6.78,-4.4,-2.13,-3.9,
  -4.4,-5.2,-3.6,-5.0,-7.66,-4.4,-2.04,-3.8,-5.1,-4.0,-3.7,-4.8,-4.6,-3.3,-1.94,-3.6,-4.9,-4.0,-3.5,-4.7,
  -4.2,-3.4,-5.3,-4.2,-3.2,-4.4,-4.6,-3.5,-3.9,-5.0,-5.5,-4.1,-3.4,-4.7,-4.3,-3.3,-2.9,-4.2,-5.0,-5.8,
  -6.82,-4.9,-3.7,-4.8,-4.5,-3.5,-3.1,-4.6,-6.73,-5.0,-4.0,-3.2,-2.8,-4.1,-4.9,-3.6,-3.5,-4.6,-5.2,-4.0,
  -3.8,-2.9,-1.82,-4.4,-6.59,-4.8,-3.9,-4.9,-4.6,-3.5,-3.2,-4.4,-5.1,-3.9,-4.2,-3.3,-3.0,-4.3,-4.7,-3.6,
  -3.5,-4.6,-5.3,-4.1,-4.0,-3.2,-2.9,-3.8,-1.96,-4.5,-6.2,-4.6,-3.7,-4.3,-4.8,-3.6,-3.3,-4.5,-5.0,-3.9,
  -4.1,-3.4,-2.9,-4.3,-5.4,-4.2,-3.6,-4.9,-6.07,-3.8,-1.45,-3.6,-4.5,-3.4,-3.8,-4.8,-5.2,-4.0,-3.1,-4.2,
  -4.4,-5.1,-3.5,-4.6,-6.12,-4.4,-4.0,-3.3,-2.7,-4.3,-5.1,-3.9,-3.6,-4.9,-6.28,-4.6,-4.2,-3.4,-3.0,-4.4,
  -4.8,-3.7,-3.4,-4.6,-5.3,-4.0,-2.8,-3.9,-4.5,-5.1,-3.9,-4.7,-5.6,-6.9,-8.83,-4.5,-1.09,-3.5,-4.3,-5.0,
  -3.2,-4.3,-5.0,-3.9,-3.7,-4.8,-4.6,-3.4,-2.9,-4.5,-6.12,-4.7,-3.8,-4.4,-4.9,-3.7,-3.3,-4.8,-6.54,-4.2,
  -2.15,-3.9,-4.4,-3.5,-3.6,-4.7,-5.2,-4.3,-3.9,-5.4,-6.92,-4.8,-4.1,-3.4,-3.0,-3.6,-2.13,-4.1,-5.0,-4.3,
  -3.6,-4.8,-4.7,-3.6,-3.2,-4.4,-5.4,-4.2,-4.0,-3.3,-1.24,-3.8,-4.6,-3.7,-3.5,-4.7,-5.1,-3.9,-3.0,-4.3,
  -4.4,-3.5,-3.7,-4.8,-5.5,-4.1,-2.9,-4.0,-4.8,-3.6,-3.4,-4.5,-5.0,-5.9,-7.03,-4.6,-3.9,-4.9,-4.5,-3.6,
  -3.1,-4.4,-5.3,-4.2,-4.0,-3.0,-2.0,-3.7,-4.6,-3.8,-3.5,-4.6,-5.2,-3.9,-2.06,-4.3,-6.26,-4.7,-3.4,-4.6,-4.2];

// ---- (g) ----
const xG = [0.00,-0.05,0.03,-0.08,-0.02,0.04,-0.06,-0.01,-0.10,0.02,
  -0.04,0.05,-0.03,-0.07,0.01,-0.05,0.03,-0.02,-0.08,0.02,
  -0.04,-0.01,0.04,-0.06,-0.02,0.03,-0.05,0.05,-0.03,-0.08,
  0.01,-0.04,0.02,-0.06,-0.01,0.03,-0.05,0.00,-0.09,0.02,
  -0.03,0.04,-0.06,-0.01,0.02,-0.05,0.03,-0.03,0.00,-0.07,
  0.02,-0.04,0.05,-0.02,-0.06,0.01,-0.03,0.03,-0.05,0.00,-0.02];
const yG = [-0.90,-1.12,-1.30,-0.92,-0.60,-0.86,-1.15,-0.90,-0.80,-1.10,-1.40,-1.06,-0.70,-0.94,-1.05,-1.28,-1.35,-0.98,-0.65,-0.88,
  -1.20,-1.40,-0.85,-1.30,-1.72,-1.26,-1.00,-0.78,-0.60,-0.96,-1.30,-1.08,-0.90,-0.56,-0.26,-0.80,-1.15,-0.94,-0.75,-1.12,
  -1.40,-1.72,-2.00,-1.30,-0.90,-0.62,-0.30,-1.10,-1.96,-1.28,-0.80,-1.06,-1.25,-0.92,-0.65,-0.90,-1.10,-1.30,-1.45,-1.08,
  -0.70,-0.96,-1.20,-0.94,-0.90,-1.16,-1.35,-0.92,-0.55,-0.82,-1.05,-1.26,-1.30,-0.98,-0.75,-0.98,-1.15,-0.90,-0.85,-1.12,
  -1.40,-0.86,-0.30,-0.72,-1.00,-1.22,-0.70,-0.96,-1.25,-1.02,-0.90,-1.16,-1.45,-1.04,-0.60,-0.88,-1.10,-1.30,-0.80,-1.04,
  -1.30,-0.98,-0.65,-0.92,-1.15,-1.34,-0.85,-1.10,-1.40,-1.00,-0.70,-0.94,-1.05,-0.80,-0.55,-0.86,-1.25,-1.02,-0.90,-1.14,
  -1.35,-1.04,-0.75,-0.98,-1.10,-0.84,-0.60,-1.20,-1.90,-1.30,-0.95,-1.18,-1.30,-0.98,-0.70,-0.94,-1.15,-1.32,-0.85,-1.08,
  -1.45,-1.06,-0.65,-0.94,-1.20,-1.50,-1.93,-1.30,-0.90,-1.12,-1.30,-0.98,-0.60,-0.86,-1.10,-1.28,-0.80,-1.06,-1.40,-1.12,
  -0.75,-0.98,-1.15,-0.90,-0.90,-1.16,-1.35,-0.96,-0.60,-0.84,-1.05,-0.70,-0.30,-0.20,-0.10,-0.70,-1.25,-1.04,-0.85,-1.10,
  -1.40,-1.06,-0.70,-0.96,-1.10,-0.84,-0.90,-1.14,-1.30,-0.92,-0.60,-0.90,-1.20,-1.00,-0.80,-1.10,-1.45,-1.14,-0.95,-0.74,
  -0.70,-0.96,-1.25,-1.02,-0.85,-1.12,-1.35,-0.94,-0.60,-0.86,-1.10,-0.62,-0.15,-0.80,-1.30,-1.06,-0.90,-0.70,-1.15,-1.34,
  -0.75,-1.04,-1.40,-1.00,-0.65,-0.92,-1.20,-0.96,-0.90,-1.14,-1.30,-0.98,-0.70,-0.94,-1.05,-0.82,-0.85,-1.10,-1.35,-1.06,-0.90];
const zG = [-5.9,-4.4,-3.6,-4.8,-4.5,-3.5,-3.4,-4.6,-4.9,-3.9,-3.8,-5.0,-6.5,-5.4,-6.97,-4.2,-2.95,-3.8,-4.4,-3.5,
  -3.7,-4.6,-5.0,-3.8,-3.4,-4.5,-4.6,-3.6,-3.9,-4.8,-5.2,-3.9,-3.5,-4.6,-4.3,-3.4,-3.2,-4.4,-4.8,-3.7,
  -2.85,-4.0,-4.5,-3.5,-3.6,-4.7,-5.1,-3.9,-4.0,-3.3,-3.4,-4.5,-4.7,-3.8,-3.04,-4.1,-4.2,-3.5,-5.0,-4.1,
  -3.6,-4.7,-4.4,-3.5,-3.3,-4.4,-4.9,-3.7,-3.9,-4.8,-4.6,-3.6,-3.5,-4.5,-5.3,-4.0,-3.0,-3.9,-4.3,-3.5,
  -3.7,-4.6,-4.8,-3.6,-3.4,-4.5,-4.1,-3.5,-5.2,-4.2,-3.6,-4.7,-4.5,-3.6,-3.3,-4.4,-4.9,-3.7,-3.8,-4.6,
  -4.4,-3.6,-3.5,-4.6,-5.0,-3.8,-3.9,-4.8,-4.6,-3.5,-3.2,-4.3,-4.7,-3.9,-5.4,-4.6,-6.59,-5.0,-4.0,-3.4,
  -3.5,-4.4,-4.8,-3.6,-3.8,-4.7,-5.1,-3.9,-2.55,-3.7,-4.3,-5.0,-3.6,-4.4,-4.9,-3.8,-2.76,-3.9,-4.5,-3.6,
  -3.9,-4.8,-5.3,-4.0,-3.4,-4.5,-4.6,-5.3,-6.07,-4.6,-3.7,-4.5,-4.4,-3.5,-3.3,-4.4,-5.0,-3.9,-3.8,-4.7,
  -4.5,-3.6,-3.4,-4.6,-4.9,-3.8,-3.7,-4.8,-5.5,-4.3,-4.1,-3.3,-3.5,-4.9,-6.33,-4.5,-4.2,-3.5,-3.6,-4.6,
  -4.8,-5.5,-6.21,-4.4,-3.5,-4.9,-6.87,-4.0,-2.05,-3.6,-4.6,-3.8,-3.3,-4.5,-5.2,-6.1,-7.44,-5.0,-3.9,-4.7,
  -4.4,-3.6,-3.5,-4.7,-5.3,-4.0,-3.8,-4.9,-4.6,-3.6,-3.2,-4.8,-6.35,-4.9,-4.3,-3.5,-3.6,-4.6,-5.0,-3.9,
  -3.9,-4.8,-4.7,-3.6,-3.4,-4.5,-5.2,-5.8,-6.33,-4.6,-3.8,-4.4,-4.5,-3.5,-3.3,-4.5,-4.9,-3.8,-3.7,-4.6,
  -4.4,-3.6,-3.5,-4.7,-5.1,-4.0,-3.9,-4.8,-4.6,-5.6,-6.45,-4.7,-3.6,-4.4,-4.8,-3.7,-2.62,-3.8,-4.2,-5.0,
  -3.7,-4.5,-5.0,-3.8,-3.9,-4.7,-4.5,-3.6,-3.3,-4.6,-5.4,-4.2,-4.1,-5.2,-6.02,-4.5,-3.6,-4.3,-4.7,-3.6,
  -3.4,-4.4,-4.9,-3.7,-3.8,-4.8,-4.4,-3.5,-3.2,-4.4,-5.1,-4.0,-4.0,-3.4,-3.0,-4.0,-4.6,-3.7,-3.9,-4.8,-4.3];

// ---- (h) ---- (X read at 0.25 s because of the short drop-outs)
const xH = [-0.33,-0.35,-0.37,-0.34,-0.36,-0.35,-0.37,-0.34,-0.36,-0.78,
  -0.35,-0.37,-0.34,-0.76,-0.36,-0.35,-0.37,-0.34,-0.36,-0.35,
  -0.38,-0.36,-0.34,-0.37,-0.35,-0.36,-0.34,-0.74,-0.36,-0.35,
  -0.80,-0.34,-0.36,-0.35,-0.37,-0.34,-0.36,-0.38,-0.35,-0.36,
  -0.34,-0.37,-0.35,-0.36,-0.76,-0.35,-0.37,-0.34,-0.82,-0.36,
  -0.35,-0.37,-0.34,-0.36,-0.35,-0.78,-0.37,-0.34,-0.36,-0.35,
  -0.38,-0.36,-0.34,-0.37,-0.35,-0.36,-0.34,-0.37,-0.35,-0.36,
  -0.34,-0.37,-0.35,-0.36,-0.38,-0.35,-0.34,-0.36,-0.37,-0.35,
  -0.36,-0.34,-0.37,-0.35,-0.36,-0.38,-0.34,-0.36,-0.35,-0.37,
  -0.34,-0.36,-0.35,-0.37,-0.34,-0.36,-0.38,-0.35,-0.36,-0.34,
  -0.82,-0.36,-0.34,-0.37,-0.35,-0.36,-0.34,-0.37,-0.35,-0.36,
  -0.38,-0.34,-0.36,-0.35,-0.78,-0.37,-0.34,-0.36,-0.35,-0.37,
  -0.34,-0.36,-0.38,-0.35,-0.36,-0.34,-0.37,-0.35,-0.36,-0.34,
  -0.37,-0.35,-0.36,-0.38,-0.34,-0.36,-0.35,-0.37,-0.34,-0.80,
  -0.36,-0.35,-0.78,-0.37,-0.34,-0.36,-0.35,-0.38,-0.34,-0.36,
  -0.35,-0.37,-0.80,-0.34,-0.36,-0.35,-0.37,-0.34,-0.36,-0.38,
  -0.35,-0.36,-0.76,-0.34,-0.37,-0.35,-0.36,-0.34,-0.37,-0.86,
  -0.35,-0.36,-0.34,-0.37,-0.35,-0.38,-0.36,-0.34,-0.37,-0.35,
  -0.36,-0.34,-0.37,-0.35,-0.36,-0.38,-0.34,-0.36,-0.35,-0.37,
  -0.34,-0.36,-0.80,-0.35,-0.37,-0.34,-0.36,-0.35,-0.76,-0.37,
  -0.34,-0.36,-0.35,-0.38,-0.36,-0.34,-0.37,-0.35,-0.36,-0.34,
  -0.37,-0.35,-0.36,-0.80,-0.34,-0.37,-0.78,-0.35,-0.36,-0.34,
  -0.37,-0.35,-0.80,-0.36,-0.34,-0.37,-0.35,-0.36,-0.38,-0.34,
  -0.36,-0.35,-0.37,-0.34,-0.36,-0.35,-0.37,-0.34,-0.36,-0.78,-0.35];
const xStepH = 0.25;
const yH = [-1.70,-1.62,-1.80,-1.70,-1.65,-1.84,-1.75,-1.64,-1.85,-1.72,-1.30,-1.68,-1.25,-1.78,-1.70,-1.86,-1.80,-1.66,-1.65,-1.78,
  -1.75,-1.66,-1.60,-1.76,-1.80,-1.68,-1.25,-1.74,-1.70,-1.78,-1.22,-1.70,-1.80,-1.62,-1.65,-1.80,-1.75,-1.66,-1.85,-1.70,
  -1.70,-1.82,-1.60,-1.74,-1.22,-1.80,-2.10,-1.72,-1.20,-1.76,-1.75,-1.62,-1.65,-1.78,-1.80,-1.68,-1.25,-1.76,-1.70,-1.84,
  -1.85,-1.70,-1.65,-1.78,-1.75,-1.64,-1.60,-1.76,-1.80,-1.92,-2.10,-1.76,-1.70,-1.62,-1.75,-1.84,-1.60,-1.72,-1.80,-1.66,
  -1.70,-1.80,-1.85,-1.68,-1.65,-1.78,-1.75,-1.62,-1.60,-1.74,-1.80,-1.66,-1.70,-1.82,-1.85,-1.70,-1.65,-1.80,-1.75,-1.62,
  -1.25,-1.74,-1.80,-1.66,-1.70,-1.82,-1.60,-1.74,-1.85,-1.68,-1.75,-1.62,-1.65,-1.78,-1.22,-1.76,-1.80,-1.64,-1.70,-1.82,
  -1.60,-1.74,-1.75,-1.64,-1.85,-1.72,-1.65,-1.80,-1.70,-1.62,-1.80,-1.68,-1.60,-1.78,-1.75,-1.64,-1.70,-1.80,-1.22,-1.74,
  -1.85,-1.72,-1.23,-1.76,-1.70,-1.84,-1.80,-1.66,-1.65,-1.78,-1.75,-1.70,-1.20,-1.76,-1.80,-1.66,-1.70,-1.82,-1.60,-1.74,
  -1.75,-1.70,-1.25,-1.78,-1.85,-1.70,-1.65,-1.80,-1.70,-1.74,-1.20,-1.74,-1.80,-1.66,-1.60,-1.76,-1.75,-1.64,-1.70,-1.82,
  -1.85,-1.70,-1.65,-1.78,-1.75,-1.62,-1.60,-1.76,-1.80,-1.68,-1.70,-1.76,-1.22,-1.74,-1.75,-1.64,-1.65,-1.80,-1.25,-1.74,
  -1.80,-1.66,-1.70,-1.82,-1.60,-1.74,-1.85,-1.70,-1.75,-1.62,-1.65,-1.76,-1.25,-1.74,-1.80,-1.72,-1.27,-1.78,-1.70,-1.64,
  -1.60,-1.76,-1.22,-1.74,-1.75,-1.64,-1.80,-1.70,-1.65,-1.78,-1.70,-1.82,-1.85,-1.68,-1.60,-1.74,-1.75,-1.66,-1.70,-1.76,-1.22];
const zH = [-4.6,-5.3,-5.8,-4.5,-4.2,-5.4,-6.1,-5.0,-4.9,-4.1,-5.4,-6.2,-7.0,-5.1,-3.31,-4.8,-6.9,-5.5,-4.5,-5.7,
  -5.6,-4.6,-4.0,-5.2,-6.3,-5.0,-4.8,-4.0,-5.5,-4.4,-3.24,-4.7,-5.9,-5.0,-4.4,-5.6,-6.4,-5.2,-7.06,-5.6,
  -4.7,-4.0,-5.3,-4.5,-4.1,-5.2,-6.0,-4.6,-4.9,-5.9,-5.7,-6.4,-7.29,-5.4,-4.3,-6.0,-7.2,-5.5,-5.0,-6.3,
  -7.46,-5.0,-3.38,-4.6,-5.6,-4.5,-4.4,-5.5,-6.2,-4.9,-4.7,-5.8,-5.3,-4.3,-3.9,-4.8,-5.8,-4.7,-4.5,-5.4,
  -6.0,-4.9,-4.2,-5.3,-5.5,-4.3,-4.8,-4.0,-3.7,-4.5,-2.84,-4.3,-5.2,-4.6,-4.4,-5.5,-6.1,-5.2,-6.58,-5.3,
  -4.6,-4.0,-5.4,-4.6,-4.0,-5.0,-5.9,-4.8,-4.7,-5.6,-6.3,-5.0,-4.3,-5.3,-5.1,-6.2,-7.34,-5.6,-4.8,-4.2,
  -5.6,-4.7,-4.1,-5.5,-7.0,-5.1,-2.9,-4.3,-5.3,-4.4,-4.5,-5.4,-6.0,-5.0,-4.2,-4.8,-5.5,-4.6,-4.9,-5.6,
  -6.2,-5.4,-7.43,-5.2,-4.4,-3.8,-3.16,-4.6,-5.7,-4.8,-4.6,-5.6,-5.2,-4.4,-4.0,-5.2,-6.1,-5.0,-4.8,-6.0,
  -7.56,-5.2,-3.4,-4.4,-5.4,-4.6,-4.5,-5.5,-6.3,-6.9,-7.43,-5.5,-4.7,-4.0,-5.6,-4.7,-4.1,-5.0,-5.9,-4.8,
  -4.4,-5.3,-6.0,-4.9,-4.9,-4.2,-5.3,-4.5,-3.8,-5.2,-7.22,-5.4,-4.6,-5.6,-5.5,-4.6,-4.2,-5.3,-6.2,-5.0,
  -4.8,-4.2,-5.4,-4.6,-3.9,-5.1,-6.0,-4.9,-4.5,-5.5,-5.7,-6.5,-7.43,-5.3,-4.3,-5.2,-5.2,-4.4,-4.7,-5.6,
  -6.1,-4.8,-4.0,-5.0,-5.6,-4.5,-4.6,-5.5,-6.4,-4.4,-3.09,-4.6,-5.3,-4.0,-2.78,-5.0,-7.29,-5.6,-4.9,-4.2,
  -5.5,-4.6,-4.2,-5.3,-6.0,-5.0,-4.7,-5.7,-5.3,-4.5,-3.9,-4.8,-5.8,-4.9,-4.5,-5.5,-6.2,-5.1,-4.8,-4.1,
  -5.4,-4.6,-4.1,-3.8,-3.31,-5.1,-6.8,-5.3,-4.6,-5.6,-5.2,-4.4,-4.3,-3.7,-3.05,-5.2,-7.5,-5.8,-4.9,-5.5,
  -5.6,-4.7,-4.4,-5.3,-6.1,-5.0,-4.7,-5.6,-5.3,-4.4,-4.0,-5.1,-5.8,-4.8,-4.6,-5.5,-6.3,-4.9,-3.6,-5.4,-7.08];

// ---- (i) ----
const xI = [0.12,0.07,0.14,0.09,0.05,0.11,0.15,0.08,0.12,0.10,
  0.06,0.13,0.09,0.16,0.08,0.11,0.14,0.07,0.10,0.13,
  0.09,0.12,0.06,0.35,0.10,0.13,0.08,0.33,0.11,0.07,
  0.14,0.10,0.34,0.09,0.12,0.08,0.15,0.10,0.06,0.13,
  0.11,0.08,0.14,0.10,0.07,0.12,0.09,0.28,0.11,0.08,
  0.13,0.10,0.06,0.12,0.09,0.14,0.11,0.07,0.13,0.10,0.12];
const yI = [-0.50,-0.72,-0.90,-0.56,-0.30,-0.54,-0.75,-0.50,-0.45,-0.78,-1.00,-0.70,-0.60,-0.38,-0.20,-0.58,-0.85,-0.62,-0.55,-0.80,
  -0.95,-0.64,-0.40,-0.90,-1.59,-0.96,-0.65,-0.44,-0.30,-0.58,-0.80,-0.56,-0.50,-0.82,-1.05,-0.66,-0.35,-0.52,-0.70,-0.90,
  -0.90,-0.62,-0.45,-0.72,-0.60,-0.20,0.33,-0.80,-2.00,-1.10,-0.75,-0.52,-0.40,-0.70,-0.95,-0.72,-0.55,-0.36,-0.20,-0.54,
  -0.85,-0.62,-0.50,-0.80,-1.10,-0.82,-0.60,-0.40,-0.30,-0.10,0.14,-0.44,-0.80,-0.60,-0.45,-0.72,-1.00,-0.78,-0.65,-0.42,
  -0.35,-0.62,-0.90,-0.70,-0.55,-0.40,-0.75,-0.52,-0.25,-0.64,-1.05,-0.80,-0.60,-1.10,-1.70,-0.90,-0.45,-0.66,-0.80,-0.56,
  -0.40,-0.70,-0.95,-0.76,-0.60,-0.38,-0.20,-0.90,-1.87,-1.06,-0.70,-0.48,-0.50,-0.76,-1.00,-0.64,-0.30,-0.56,-0.85,-0.60,
  -0.55,-0.78,-0.95,-0.64,-0.40,-0.62,-0.75,-1.20,-1.92,-0.80,0.10,-0.40,-0.65,-0.86,-1.05,-0.74,-0.50,-0.68,-0.80,-0.52,
  -0.30,-0.56,-0.90,-0.70,-0.60,-0.86,-1.10,-0.74,-0.45,-0.66,-0.75,-0.50,-0.25,-0.62,-1.00,-0.76,-0.55,-0.36,-0.85,-0.60,
  -0.40,-0.68,-0.95,-0.72,-0.60,-0.42,-0.30,-0.56,-0.80,-0.58,-0.50,-0.78,-1.05,-1.30,-1.55,-0.90,-0.65,-0.44,-0.35,-0.62,
  -0.90,-0.66,-0.50,-0.74,-0.75,-0.48,-0.20,-0.60,-1.00,-0.76,-0.60,-0.40,-0.85,-0.62,-0.40,-0.70,-1.10,-0.78,-0.55,-0.34,
  -0.30,-0.58,-0.80,-0.56,-0.60,-0.82,-0.95,-0.66,-0.45,-0.68,-0.70,-0.46,-0.25,-0.64,-1.05,-0.76,-0.55,-0.36,-0.85,-0.62,
  -0.40,-0.66,-0.90,-0.68,-0.60,-0.84,-1.00,-0.64,-0.35,-0.92,-1.45,-0.94,-0.70,-0.48,-0.50,-0.74,-0.90,-0.66,-0.55,-0.78,-0.70];
const zI = [-3.2,-4.0,-4.3,-3.3,-2.9,-3.9,-3.8,-3.1,-4.5,-3.8,-3.4,-4.2,-2.8,-3.6,-4.1,-3.2,-3.6,-4.4,-4.9,-3.7,
  -3.1,-4.2,-4.0,-3.2,-3.5,-4.1,-2.34,-3.5,-4.2,-3.3,-3.3,-4.4,-4.6,-3.7,-3.0,-4.0,-3.9,-3.1,-4.4,-3.6,
  -3.2,-4.1,-3.8,-4.6,-5.41,-3.9,-3.5,-2.9,-2.8,-3.7,-4.2,-3.3,-3.4,-4.3,-4.7,-3.6,-3.0,-4.0,-3.9,-3.2,
  -2.6,-3.6,-4.1,-3.3,-3.3,-4.2,-4.4,-3.5,-3.7,-4.3,-2.9,-3.8,-4.3,-3.4,-3.5,-4.2,-3.9,-4.6,-5.29,-3.9,
  -3.4,-4.3,-4.0,-3.2,-2.8,-3.9,-4.5,-3.5,-3.6,-4.3,-3.1,-3.9,-4.2,-3.3,-3.7,-4.4,-2.9,-3.6,-4.4,-3.4,
  -3.3,-4.0,-2.5,-3.5,-4.0,-3.2,-3.6,-4.4,-4.6,-3.6,-3.2,-4.1,-3.9,-3.2,-4.3,-3.5,-2.39,-3.3,-3.7,-4.3,
  -4.5,-3.6,-3.0,-3.9,-3.8,-3.1,-4.2,-3.5,-3.4,-4.1,-2.8,-3.7,-4.1,-3.3,-3.5,-4.2,-4.6,-3.6,-3.1,-3.9,
  -3.8,-3.2,-4.3,-3.6,-3.3,-4.2,-4.9,-3.8,-4.1,-3.2,-2.34,-3.4,-3.6,-4.3,-4.4,-3.5,-3.0,-3.9,-3.9,-3.2,
  -3.4,-4.2,-4.6,-3.5,-2.9,-3.8,-3.7,-4.4,-4.2,-3.4,-3.3,-4.1,-4.0,-3.2,-3.6,-4.3,-2.8,-3.5,-2.31,-3.9,
  -4.5,-3.6,-3.2,-4.1,-3.9,-4.6,-5.06,-3.9,-3.5,-4.2,-4.3,-3.4,-3.0,-4.5,-5.95,-4.2,-2.28,-3.4,-3.8,-4.2,
  -4.4,-3.5,-3.3,-4.1,-3.9,-3.2,-4.8,-3.9,-3.1,-4.3,-5.26,-4.0,-3.7,-3.1,-4.2,-3.5,-3.0,-3.9,-3.8,-4.5,
  -5.43,-4.1,-3.6,-3.2,-4.1,-3.6,-3.2,-4.0,-4.5,-3.7,-5.0,-4.2,-3.4,-3.0,-3.9,-3.3,-2.7,-3.5,-4.2,-3.6,
  -3.5,-4.3,-4.0,-3.3,-3.1,-3.9,-4.4,-3.5,-3.7,-3.0,-2.28,-3.6,-5.2,-4.0,-3.6,-4.3,-4.1,-3.4,-3.0,-3.9,
  -3.8,-3.2,-4.3,-3.5,-3.2,-4.0,-3.9,-3.3,-4.6,-3.7,-3.4,-4.2,-3.0,-4.1,-5.34,-4.2,-3.7,-3.2,-4.1,-3.5,
  -3.3,-4.1,-3.9,-3.2,-2.7,-3.6,-4.2,-3.4,-3.5,-4.1,-3.1,-3.7,-3.8,-3.2,-4.4,-3.7,-3.2,-3.9,-3.6,-4.2,-4.8];

// Layout of the nine axes (plot-area edges in page pixels)
const panels = [
  { tag: "a", x: xA, y: yA, z: zA, L: 155, T: 48, R: 1076, B: 745, titleX: 46, cap: [594, 929], leg: { mr: 44, mb: 46, w: 228, h: 151 } },
  { tag: "b", x: xB, y: yB, z: zB, L: 1397, T: 47, R: 2313, B: 742, titleX: 1289, cap: [1835, 929], leg: { mr: 35, mb: 26, w: 227, h: 151 } },
  { tag: "c", x: xC, y: yC, z: zC, L: 2668, T: 80, R: 3514, B: 718, titleX: 2569, small: true, cap: [3073, 890], leg: { mr: 37, mb: 51, w: 208, h: 139 } },
  { tag: "d", x: xD, y: yD, z: zD, L: 157, T: 1041, R: 1072, B: 1732, titleX: 50, cap: [594, 1920], leg: { mr: 32, mb: 22, w: 225, h: 150 } },
  { tag: "e", x: xE, y: yE, z: zE, L: 1400, T: 1045, R: 2310, B: 1735, titleX: 1291, cap: [1835, 1917], leg: { mr: 16, mb: -5, w: 224, h: 152 } },
  { tag: "f", x: xF, y: yF, z: zF, L: 2664, T: 1069, R: 3521, B: 1715, titleX: 2562, small: true, cap: [3073, 1890], leg: { mr: 25, mb: 35, w: 212, h: 140 } },
  { tag: "g", x: xG, y: yG, z: zG, L: 159, T: 2037, R: 1070, B: 2728, titleX: 53, cap: [594, 2913], leg: { mr: 16, mb: 28, w: 225, h: 146 } },
  { tag: "h", x: xH, xStep: xStepH, y: yH, z: zH, L: 1400, T: 2038, R: 2310, B: 2728, titleX: 1291, cap: [1832, 2913], leg: { mr: 20, mb: 23, w: 230, h: 149 } },
  { tag: "i", x: xI, y: yI, z: zI, L: 2636, T: 2034, R: 3552, B: 2728, titleX: 2527, cap: [3073, 2917], leg: { mr: 18, mb: 30, w: 230, h: 149 } }
];

const serif = '"Liberation Serif", "Times New Roman", serif';
const axisColor = "#262626";
const gridColor = "rgba(0,0,0,0.13)";

function toPoints(values, step) {
  return values.map((v, i) => ({ x: i * step, y: v }));
}

// box round the axes plus inward tick marks on all four sides
const frame = {
  id: "frame",
  afterDraw(chart) {
    const { ctx, chartArea: a, scales } = chart;
    ctx.save();
    ctx.strokeStyle = axisColor;
    ctx.lineWidth = 3;
    ctx.beginPath();
    scales.x.ticks.forEach(t => {
      const px = scales.x.getPixelForValue(t.value);
      ctx.moveTo(px, a.bottom); ctx.lineTo(px, a.bottom - 10);
      ctx.moveTo(px, a.top); ctx.lineTo(px, a.top + 10);
    });
    scales.y.ticks.forEach(t => {
      const py = scales.y.getPixelForValue(t.value);
      ctx.moveTo(a.left, py); ctx.lineTo(a.left + 10, py);
      ctx.moveTo(a.right, py); ctx.lineTo(a.right - 10, py);
    });
    ctx.stroke();
    ctx.strokeRect(a.left, a.top, a.right - a.left, a.bottom - a.top);
    ctx.restore();
  }
};

// MATLAB-like legend box in the lower right of the axes
const boxLegend = {
  id: "boxLegend",
  afterDraw(chart, args, o) {
    const { ctx, chartArea: a } = chart;
    const s = o.h / 151;
    const left = a.right - o.mr - o.w;
    const top = a.bottom - o.mb - o.h;
    ctx.save();
    ctx.fillStyle = "#fff";
    ctx.fillRect(left, top, o.w, o.h);
    ctx.strokeStyle = axisColor;
    ctx.lineWidth = 2;
    ctx.strokeRect(left, top, o.w, o.h);
    ctx.font = o.size + "px " + serif;
    ctx.textBaseline = "middle";
    ctx.textAlign = "left";
    chart.data.datasets.forEach((ds, i) => {
      const y = top + (28 + 48 * i) * s;
      ctx.beginPath();
      ctx.strokeStyle = ds.borderColor;
      ctx.lineWidth = ds.legendWidth;
      ctx.setLineDash(ds.legendDash);
      ctx.moveTo(left + 10 * s, y);
      ctx.lineTo(left + 96 * s, y);
      ctx.stroke();
      ctx.setLineDash([]);
      ctx.fillStyle = "#000";
      ctx.fillText(ds.label, left + 100 * s, y + 1);
    });
    ctx.restore();
  }
};

function makePanel(p, fig) {
  const titleSize = p.small ? 44 : 48;
  const tickSize = p.small ? 41 : 44;
  const titleLH = titleSize * 1.2;
  const tickLH = tickSize * 1.2;
  const timeOff = p.small ? 94 : 97;

  const left = Math.round(p.titleX - titleLH / 2);
  const top = p.T - 30;
  const right = p.R + 30;
  const bottom = Math.round(p.B + timeOff + titleLH / 2);
  const yWidth = p.L - left;
  const xHeight = bottom - p.B;

  const canvas = document.createElement("canvas");
  canvas.width = right - left;
  canvas.height = bottom - top;
  canvas.style.left = left + "px";
  canvas.style.top = top + "px";
  canvas.style.width = (right - left) + "px";
  canvas.style.height = (bottom - top) + "px";
  fig.appendChild(canvas);

  new Chart(canvas.getContext("2d"), {
    type: "line",
    data: {
      datasets: [
        { label: seriesNames[0], data: toPoints(p.x, p.xStep || xStep), borderColor: "#0000ff", borderWidth: 7, order: 2, legendWidth: 4.5, legendDash: [] },
        { label: seriesNames[1], data: toPoints(p.y, yStep), borderColor: "#000000", borderWidth: 4.5, borderDash: [10, 3], order: 1, legendWidth: 3.5, legendDash: [10, 12] },
        { label: seriesNames[2], data: toPoints(p.z, zStep), borderColor: "#ff0000", borderWidth: 4, borderDash: [26, 2, 4, 2], order: 0, legendWidth: 3.5, legendDash: [10, 4, 3, 4] }
      ]
    },
    options: {
      responsive: false,
      animation: false,
      devicePixelRatio: 1,
      events: [],
      layout: { padding: { top: 30, right: 30, left: 0, bottom: 0 } },
      elements: { point: { radius: 0 }, line: { tension: 0, borderJoinStyle: "round" } },
      plugins: {
        legend: { display: false },
        tooltip: { enabled: false },
        boxLegend: Object.assign({ size: p.small ? 37 : 40 }, p.leg)
      },
      scales: {
        x: {
          type: "linear",
          min: timeTicks[0],
          max: timeTicks[timeTicks.length - 1],
          afterFit: scale => { scale.height = xHeight; },
          ticks: { stepSize: timeTicks[1] - timeTicks[0], padding: Math.round(39 - tickLH / 2), color: axisColor, font: { family: serif, size: tickSize } },
          grid: { color: gridColor, lineWidth: 2, drawTicks: false },
          border: { display: false },
          title: { display: true, text: "Time [s]", color: axisColor, padding: 0, font: { family: serif, size: titleSize } }
        },
        y: {
          type: "linear",
          min: dispTicks[0],
          max: dispTicks[dispTicks.length - 1],
          afterFit: scale => { scale.width = yWidth; },
          ticks: { stepSize: dispTicks[1] - dispTicks[0], padding: 13, color: axisColor, font: { family: serif, size: tickSize } },
          grid: { color: gridColor, lineWidth: 2, drawTicks: false },
          border: { display: false },
          title: { display: true, text: "Displacement [mm]", color: axisColor, padding: 0, font: { family: serif, size: titleSize } }
        }
      }
    },
    plugins: [frame, boxLegend]
  });

  const cap = document.createElement("div");
  cap.className = "cap";
  cap.style.left = p.cap[0] + "px";
  cap.style.top = p.cap[1] + "px";
  cap.innerHTML = "(<b>" + p.tag + "</b>)";
  fig.appendChild(cap);
}

const fig = document.getElementById("fig");
panels.forEach(p => makePanel(p, fig));
</script>
</body>
</html>
